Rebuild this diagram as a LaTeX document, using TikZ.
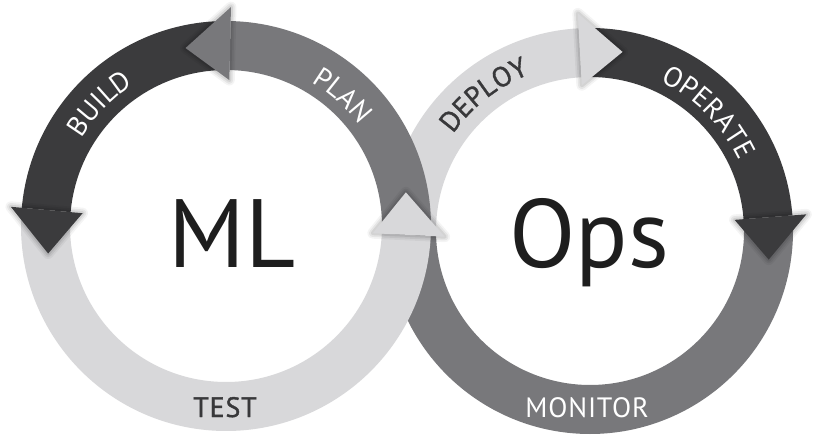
\documentclass[tikz,border=0pt]{standalone}
\usepackage{fontspec}
\setmainfont{PT Sans}
\usetikzlibrary{decorations.text}
\definecolor{dk}{HTML}{3B3B3D}
\definecolor{md}{HTML}{78787B}
\definecolor{lt}{HTML}{D8D8DA}
\definecolor{ink}{HTML}{1E1E1E}
\definecolor{lblink}{HTML}{38383A}
\newcommand{\lblfont}{\fontsize{28}{30}\selectfont\addfontfeatures{LetterSpace=3}}
\newcommand{\lblbold}{\fontsize{28}{30}\selectfont\addfontfeatures{LetterSpace=3,FakeBold=1.3}}
\newcommand{\bigfont}{\fontsize{97}{100}\selectfont}
% band: colour, start angle, end angle, inner r, outer r
\newcommand{\bandseg}[5]{\fill[#1] (#2:#4pt) arc[start angle=#2, end angle=#3, radius=#4pt] -- (#3:#5pt) arc[start angle=#3, end angle=#2, radius=#5pt] -- cycle;}
% head: colour, base angle, tip angle, inner r, outer r
\newcommand{\headseg}[5]{%
  \pgfmathsetmacro{\hm}{(#4+#5)/2}%
  \foreach \w/\o in {11/0.045,7.5/0.06,4/0.08}{\draw[black, opacity=\o, line width=\w pt, line join=round] (#2:#4pt) -- (#3:\hm pt) -- (#2:#5pt) -- cycle;}%
  \fill[#1] (#2:#4pt) -- (#3:\hm pt) -- (#2:#5pt) -- cycle;}
\tikzset{
  arclabel/.style={decorate, decoration={text along path, text align=center, text color=#1}},
  whitelabel/.style={font=\lblfont, text=white, inner sep=0pt, anchor=base},
  darklabel/.style={font=\lblbold, text=lblink, inner sep=0pt, anchor=base},
  bigtext/.style={font=\bigfont, text=ink, anchor=base, inner sep=0pt}
}
\begin{document}
\begin{tikzpicture}[x=1pt,y=1pt]
\useasboundingbox (0,0) rectangle (816,442);
\fill[white] (0,0) rectangle (816,442);
% ---------- right ring (Ops) ----------
\begin{scope}[shift={(590,211)}]
  \bandseg{md}{1}{-180}{154}{203}      % MONITOR
  \bandseg{lt}{181}{93.2}{154}{203}    % DEPLOY
  \bandseg{dk}{90}{4.4}{154}{203}      % OPERATE
  \headseg{lt}{93.2}{79.7}{146}{218}   % DEPLOY head
  \headseg{dk}{4.4}{-9.1}{145}{217}    % OPERATE head
  \path[arclabel=lblink, decoration={text={|\lblbold|DEPLOY}}] (167.9:168pt) arc[start angle=167.9, end angle=87.9, radius=168pt];
  \path[arclabel=white, decoration={text={|\lblfont|OPERATE}}] (85:165pt) arc[start angle=85, end angle=5, radius=165pt];
\end{scope}
\node[whitelabel] (monitor) at (587,25) {MONITOR};
% ---------- left ring (ML) ----------
\begin{scope}[shift={(226,216)}]
  \bandseg{lt}{178}{357.2}{156}{205}   % TEST
  \bandseg{md}{1}{88.7}{156}{205}      % PLAN
  \bandseg{dk}{92}{174.9}{156}{205}    % BUILD
  \headseg{md}{88.7}{102.8}{146}{219}  % PLAN head
  \headseg{dk}{174.9}{188.8}{144}{216} % BUILD head
  \headseg{lt}{-2.8}{10.6}{147}{219}   % TEST head
  \path[arclabel=white, decoration={text={|\lblfont|BUILD}}] (175.9:169pt) arc[start angle=175.9, end angle=95.9, radius=169pt];
  \path[arclabel=white, decoration={text={|\lblfont|PLAN}}] (88.2:167pt) arc[start angle=88.2, end angle=8.2, radius=167pt];
\end{scope}
\node[darklabel] (test) at (225,25) {TEST};
% ---------- centre words ----------
\node[bigtext] (ml) at (232,174) {ML};
\node[bigtext] (ops) at (589,174) {Ops};
\end{tikzpicture}
\end{document}
